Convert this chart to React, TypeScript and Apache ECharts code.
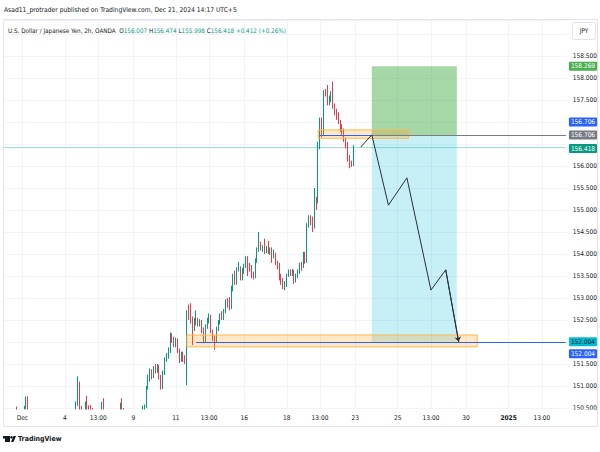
import React, { useEffect, useRef } from "react";
import * as echarts from "echarts";

const FONT = '"Liberation Sans Narrow", "Arial Narrow", "DejaVu Sans Condensed", "Roboto Condensed", Roboto, sans-serif';
const UP = "#089981";
const DOWN = "#f23645";
const TXT = "#131722";

// OHLC bars, 2h, each row = [open, close, low, high]
const novWeek: number[][] = [
  [150.05, 149.85, 149.75, 150.2], [149.85, 149.95, 149.7, 150.1], [149.95, 150.1, 149.85, 150.2], [150.1, 150.2, 150.0, 150.3],
  [150.2, 150.05, 149.95, 150.3], [150.05, 150.25, 150.0, 150.35], [150.25, 150.4, 150.2, 150.45], [150.4, 150.3, 150.25, 150.53],
  [150.3, 150.15, 150.1, 150.35], [150.15, 150.05, 149.95, 150.2],
];
const decWeek1: number[][] = [
  [150.1, 150.25, 150.0, 150.35], [150.25, 150.52, 150.2, 150.55], [150.52, 150.72, 150.48, 150.76], [150.72, 150.42, 150.38, 150.77],
  [150.42, 150.2, 150.1, 150.45], [150.2, 150.0, 149.9, 150.3], [150.0, 150.1, 149.9, 150.2], [150.1, 149.8, 149.7, 150.15],
  [149.8, 149.65, 149.5, 149.9], [149.65, 149.8, 149.55, 149.9], [149.8, 149.7, 149.6, 149.95], [149.7, 149.55, 149.45, 149.8],
  [149.55, 149.6, 149.4, 149.7], [149.6, 149.5, 149.35, 149.7], [149.5, 149.65, 149.4, 149.75], [149.65, 149.8, 149.55, 149.9],
  [149.8, 149.6, 149.5, 149.85], [149.6, 149.7, 149.5, 149.8], [149.7, 149.85, 149.6, 149.95], [149.85, 149.75, 149.65, 150.0],
  [149.75, 149.9, 149.7, 150.05], [149.9, 150.0, 149.8, 150.1], [150.0, 149.9, 149.8, 150.1], [149.9, 150.05, 149.85, 150.15],
  [150.05, 150.2, 150.0, 150.3], [150.2, 150.1, 150.0, 150.3], [150.1, 150.25, 150.05, 150.35], [150.25, 150.35, 150.15, 150.42],
  [150.35, 150.42, 150.3, 150.48], [150.42, 150.6, 150.38, 150.65], [150.6, 151.0, 150.55, 151.22], [151.0, 150.5, 150.45, 151.1],
  [150.5, 150.25, 150.15, 150.55], [150.25, 150.4, 150.2, 150.45], [150.4, 150.62, 150.35, 150.65], [150.62, 150.5, 150.45, 150.78],
  [150.5, 150.44, 150.35, 150.56], [150.54, 150.45, 150.3, 150.57], [150.45, 150.3, 150.2, 150.5], [150.3, 150.2, 150.1, 150.38],
  [150.2, 150.35, 150.15, 150.4], [150.35, 150.42, 150.25, 150.45], [150.42, 150.45, 150.3, 150.48], [150.45, 150.6, 150.42, 150.64],
  [150.6, 150.45, 150.4, 150.72], [150.45, 150.3, 150.2, 150.48], [150.3, 150.2, 150.1, 150.35], [150.2, 150.05, 149.95, 150.25],
  [150.05, 150.15, 149.95, 150.2], [150.15, 150.0, 149.9, 150.2], [150.0, 150.2, 149.95, 150.3], [150.2, 150.35, 150.1, 150.4],
  [150.35, 150.45, 150.3, 150.48], [150.45, 150.58, 150.4, 150.62], [150.58, 150.45, 150.4, 150.72], [150.45, 150.3, 150.2, 150.5],
  [150.3, 150.1, 150.0, 150.35], [150.1, 150.0, 149.9, 150.2], [150.0, 149.95, 149.85, 150.1], [149.95, 150.0, 149.9, 150.05],
];
const decWeek2: number[][] = [
  [150.0, 150.1, 149.9, 150.2], [150.1, 150.2, 150.0, 150.3], [150.2, 150.3, 150.1, 150.38], [150.3, 150.35, 150.2, 150.42],
  [150.35, 150.42, 150.3, 150.46], [150.42, 150.53, 150.38, 150.55], [150.53, 150.56, 150.44, 150.58], [150.56, 150.98, 150.5, 151.0],
  [150.98, 151.2, 150.92, 151.26], [151.2, 151.33, 151.1, 151.4], [151.33, 151.22, 151.15, 151.38], [151.22, 151.4, 151.18, 151.45],
  [151.4, 151.35, 151.28, 151.5], [151.35, 151.42, 151.3, 151.5], [151.42, 151.2, 151.15, 151.48], [151.2, 150.97, 150.92, 151.25],
  [150.97, 151.3, 150.93, 151.35], [151.3, 151.6, 151.25, 151.65], [151.6, 151.7, 151.55, 151.75], [151.7, 151.8, 151.62, 151.88],
  [151.8, 152.15, 151.75, 152.22], [152.15, 152.05, 151.98, 152.2], [152.05, 151.95, 151.88, 152.12], [151.95, 152.05, 151.88, 152.1],
  [152.05, 151.8, 151.75, 152.08], [151.8, 151.6, 151.52, 151.85], [151.6, 151.72, 151.55, 151.78], [151.72, 151.62, 151.55, 151.78],
  [151.62, 151.58, 151.5, 151.7], [151.58, 152.66, 151.02, 152.72], [152.66, 152.6, 152.5, 152.85], [152.6, 152.55, 152.42, 152.88],
  [152.55, 152.3, 151.93, 152.58], [152.3, 152.45, 152.25, 152.55], [152.45, 152.5, 152.38, 152.72], [152.5, 152.42, 152.35, 152.55],
  [152.42, 152.48, 152.35, 152.52], [152.48, 152.3, 152.2, 152.5], [152.3, 152.02, 151.97, 152.33], [152.02, 152.35, 151.98, 152.4],
  [152.35, 152.5, 152.3, 152.55], [152.5, 152.6, 152.42, 152.65], [152.6, 152.25, 152.2, 152.62], [152.25, 152.1, 152.02, 152.28],
  [152.1, 152.05, 151.82, 152.15], [152.05, 152.3, 152.0, 152.35], [152.3, 152.45, 152.25, 152.5], [152.45, 152.6, 152.4, 152.65],
  [152.6, 152.55, 152.5, 152.7], [152.55, 152.7, 152.5, 152.75], [152.7, 152.92, 152.65, 152.97], [152.92, 152.85, 152.78, 153.0],
  [152.85, 152.78, 152.72, 153.02], [152.78, 153.2, 152.75, 153.28], [153.2, 153.5, 153.15, 153.55], [153.5, 153.35, 153.3, 153.62],
  [153.35, 153.65, 153.3, 153.7], [153.65, 153.68, 153.6, 153.82], [153.68, 153.45, 153.4, 153.72], [153.45, 153.6, 153.4, 153.68],
];
const decWeek3: number[][] = [
  [153.6, 153.72, 153.55, 153.78], [153.72, 153.9, 153.68, 153.95], [153.9, 153.72, 153.5, 153.95], [153.72, 153.68, 153.6, 153.8],
  [153.68, 153.5, 153.45, 153.75], [153.5, 153.48, 153.42, 153.6], [153.48, 153.85, 153.45, 153.9], [153.85, 154.1, 153.8, 154.15],
  [154.1, 154.22, 154.05, 154.5], [154.22, 154.12, 154.08, 154.28], [154.12, 154.15, 154.05, 154.2], [154.15, 154.08, 154.0, 154.35],
  [154.08, 154.12, 154.02, 154.18], [154.12, 154.05, 154.0, 154.3], [154.05, 154.1, 153.98, 154.15], [154.1, 153.98, 153.8, 154.15],
  [153.98, 154.0, 153.9, 154.1], [154.0, 153.8, 153.75, 154.03], [153.8, 153.72, 153.65, 153.85], [153.72, 153.45, 153.4, 153.8],
  [153.45, 153.35, 153.3, 153.55], [153.35, 153.28, 153.2, 153.45], [153.28, 153.3, 153.18, 153.38], [153.3, 153.52, 153.25, 153.55],
  [153.52, 153.58, 153.48, 153.65], [153.58, 153.55, 153.5, 153.65], [153.55, 153.6, 153.5, 153.66], [153.6, 153.38, 153.32, 153.64],
  [153.38, 153.5, 153.35, 153.55], [153.5, 153.6, 153.45, 153.65], [153.6, 153.75, 153.55, 153.8], [153.75, 153.7, 153.62, 153.82],
  [153.7, 154.0, 153.68, 154.05], [154.0, 153.82, 153.78, 154.05], [153.82, 154.65, 153.8, 154.7], [154.65, 154.82, 154.6, 154.88],
  [154.82, 154.7, 154.65, 154.88], [154.7, 154.62, 154.5, 154.85], [154.62, 155.22, 154.58, 155.5], [155.22, 155.18, 155.0, 155.3],
  [155.18, 156.48, 155.15, 156.55], [156.48, 157.05, 156.38, 157.1], [157.05, 156.75, 156.65, 157.1], [156.75, 157.68, 156.7, 157.72],
  [157.68, 157.65, 157.58, 157.75], [157.65, 157.42, 157.38, 157.84], [157.42, 157.55, 157.38, 157.6], [157.55, 157.65, 157.45, 157.7],
  [157.65, 157.35, 157.3, 157.92], [157.35, 157.2, 157.15, 157.42], [157.2, 157.15, 157.05, 157.3], [157.15, 157.0, 156.95, 157.22],
  [157.0, 156.85, 156.78, 157.05], [156.85, 156.75, 156.7, 156.95], [156.75, 156.6, 156.55, 156.85], [156.6, 156.5, 156.4, 156.65],
  [156.5, 156.15, 156.1, 156.55], [156.15, 156.05, 155.95, 156.25], [156.05, 156.0, 155.98, 156.12], [156.007, 156.418, 155.998, 156.474],
];

const barCount = 305;
const xTickLabels: [string, string][] = [
  ["2024-12-02 03:00", "Dec"], ["2024-12-04 01:00", "4"], ["2024-12-05 13:00", "13:00"], ["2024-12-09 03:00", "9"],
  ["2024-12-11 01:00", "11"], ["2024-12-12 13:00", "13:00"], ["2024-12-16 03:00", "16"], ["2024-12-18 01:00", "18"],
  ["2024-12-19 13:00", "13:00"], ["2024-12-23 03:00", "23"], ["2024-12-25 01:00", "25"], ["2024-12-26 13:00", "13:00"],
  ["2024-12-30 03:00", "30"], ["2025-01-01 01:00", "2025"], ["2025-01-02 13:00", "13:00"],
];

const headerLine1 = "Asad11_protrader published on TradingView.com, Dec 21, 2024 14:17 UTC+5";
const symbolName = "U.S. Dollar / Japanese Yen, 2h, OANDA";
const ohlcLegend: [string, string][] = [["O", "156.007"], ["H", "156.474"], ["L", "155.998"], ["C", "156.418"]];
const changeText = "+0.412 (+0.26%)";

const lastPrice = 156.418;
const targetPrice = 158.269;
const entryPrice = 156.706;
const stopPrice = 152.004;
const positionBars = [199, 245];
const upperZoneBars = [170, 219];
const upperZonePrices = [156.82, 156.63];
const lowerZoneBars = [99, 256];
const lowerZonePrices = [152.16, 151.89];
const entryRayStart = 171;
const stopRayStart = 104;
const pathBars = [193, 199, 208, 218, 231, 239, 246];
const pathPrices = [156.43, 156.706, 155.11, 155.73, 153.18, 153.64, 152.004];

function buildBarTimes(n: number): string[] {
  const out: string[] = [];
  const pad = (v: number) => String(v).padStart(2, "0");
  let t = Date.UTC(2024, 10, 29, 7);
  for (let k = 0; k < n; k++) {
    const d = new Date(t);
    out.push(`${d.getUTCFullYear()}-${pad(d.getUTCMonth() + 1)}-${pad(d.getUTCDate())} ${pad(d.getUTCHours())}:00`);
    t += 7200000;
    const nd = new Date(t);
    if (nd.getUTCDay() === 6 && nd.getUTCHours() >= 3) {
      t = Date.UTC(nd.getUTCFullYear(), nd.getUTCMonth(), nd.getUTCDate() + 2, 3);
    }
  }
  return out;
}

const axisLabelBox = (bg: string, text: string, dy = 0, fg = "#ffffff") => ({
  show: true,
  position: "end",
  distance: 3,
  formatter: text,
  backgroundColor: bg,
  color: fg,
  fontSize: 6.5,
  lineHeight: 7,
  fontFamily: FONT,
  padding: [1, 2, 1, 2],
  borderRadius: 1,
  offset: [0, dy],
});

export default function App() {
  const ref = useRef<HTMLDivElement>(null);
  useEffect(() => {
    if (!ref.current) return;
    const chart = echarts.init(ref.current, null, { renderer: "svg" });
    const times = buildBarTimes(barCount);
    const tickMap = new Map(xTickLabels);
    const tickIdx = new Set<number>();
    times.forEach((t, i) => { if (tickMap.has(t)) tickIdx.add(i); });
    const bars = [...novWeek, ...decWeek1, ...decWeek2, ...decWeek3];
    const candleData = bars.map(([o, c, l, h]) => [o, c, l, h]);
    const lastBar = barCount - 1;
    const pathData = pathBars.map((b, i) => [b, pathPrices[i]]);
    const n = pathBars.length;
    const coveredLevels = [entryPrice, lastPrice, stopPrice];

    // header legend laid out segment by segment
    const ctx = document.createElement("canvas").getContext("2d")!;
    const legendSize = 6.3;
    ctx.font = `${legendSize}px ${FONT}`;
    const segs: [string, string][] = [[symbolName, TXT], ["  ", TXT]];
    ohlcLegend.forEach(([k, v], i) => { segs.push([(i ? " " : "") + k, TXT]); segs.push([v, UP]); });
    segs.push([" " + changeText, UP]);
    let lx = 8;
    const legendEls: any[] = [];
    segs.forEach(([s, col]) => {
      if (s.trim()) {
        legendEls.push({ type: "text", z: 20, x: lx, y: 30, style: { text: s, fontSize: legendSize, fontFamily: FONT, fill: col, verticalAlign: "middle" } });
      }
      lx += ctx.measureText(s).width;
    });

    const option: any = {
      animation: false,
      backgroundColor: "#ffffff",
      grid: { left: 3, right: 33, top: 20, bottom: 44 },
      xAxis: {
        type: "category",
        data: times,
        boundaryGap: true,
        z: 10,
        axisLine: { show: false },
        axisTick: { show: false },
        splitLine: { show: false },
        axisLabel: {
          interval: (i: number) => tickIdx.has(i),
          formatter: (v: string) => {
            const s = tickMap.get(v) || "";
            return s === "2025" ? "{b|2025}" : s;
          },
          color: TXT,
          fontSize: 6.5,
          fontFamily: FONT,
          margin: 6,
          rich: { b: { fontWeight: "bold", fontSize: 6.5, fontFamily: FONT, color: TXT } },
        },
      },
      yAxis: {
        type: "value",
        position: "right",
        min: 150.5,
        max: 159.318,
        interval: 0.5,
        z: 0,
        axisLine: { show: false },
        axisTick: { show: false },
        axisLabel: {
          formatter: (v: number) =>
            v > 158.9 || coveredLevels.some((p) => Math.abs(v - p) < 0.3) ? "" : v.toFixed(3),
          color: TXT,
          fontSize: 6.5,
          fontFamily: FONT,
          margin: 6,
        },
        splitLine: { lineStyle: { color: "#f0f3fa", width: 1 } },
      },
      series: [
        {
          type: "line",
          data: [],
          z: 1,
          silent: true,
          markLine: {
            z: 1,
            silent: true,
            symbol: ["none", "none"],
            label: { show: false },
            lineStyle: { color: "#f0f3fa", width: 1, type: "solid" },
            data: Array.from(tickIdx).map((i) => ({ xAxis: times[i] })),
          },
        },
        {
          type: "line",
          data: [[0, lastPrice], [lastBar, lastPrice]],
          z: 1,
          silent: true,
          symbol: "none",
          color: "#9bdcd0",
          lineStyle: { color: "#9bdcd0", width: 1, type: "solid" },
        },
        {
          type: "candlestick",
          data: candleData,
          barWidth: 0.6,
          z: 2,
          clip: true,
          itemStyle: { color: UP, color0: DOWN, borderColor: UP, borderColor0: DOWN, borderWidth: 1 },
        },
        {
          type: "line",
          data: pathData,
          symbol: "none",
          silent: true,
          z: 4,
          lineStyle: { color: "#2a2e39", width: 1 },
          markArea: {
            z: 3,
            silent: true,
            label: { show: false },
            data: [
              [{ coord: [positionBars[0], targetPrice], itemStyle: { color: "rgba(76,175,80,0.5)" } }, { coord: [positionBars[1], entryPrice] }],
              [{ coord: [positionBars[0], entryPrice], itemStyle: { color: "rgba(0,188,212,0.22)" } }, { coord: [positionBars[1], stopPrice] }],
              [{ coord: [upperZoneBars[0], upperZonePrices[0]], itemStyle: { color: "rgba(255,152,0,0.22)", borderColor: "#ffb74d", borderWidth: 1 } }, { coord: [upperZoneBars[1], upperZonePrices[1]] }],
              [{ coord: [lowerZoneBars[0], lowerZonePrices[0]], itemStyle: { color: "rgba(255,152,0,0.22)", borderColor: "#ffb74d", borderWidth: 1 } }, { coord: [lowerZoneBars[1], lowerZonePrices[1]] }],
            ],
          },
          markLine: {
            z: 4,
            silent: true,
            symbol: ["none", "none"],
            data: [
              [{ coord: [lastBar - 1, lastPrice], lineStyle: { color: "transparent", width: 0 }, label: axisLabelBox(UP, "156.418", 1) }, { coord: [lastBar, lastPrice] }],
              [{ coord: [entryRayStart, entryPrice], lineStyle: { color: "#2962ff", width: 1, type: "solid" }, label: axisLabelBox("#2962ff", "156.706", -13) }, { coord: [lastBar, entryPrice] }],
              [{ coord: [positionBars[0], entryPrice], lineStyle: { color: "#787b86", width: 1, type: "solid" }, label: axisLabelBox("#787b86", "156.706") }, { coord: [lastBar, entryPrice] }],
              [{ coord: [stopRayStart, stopPrice], lineStyle: { color: "#2962ff", width: 1, type: "solid" }, label: axisLabelBox("#2962ff", "152.004", 12) }, { coord: [lastBar, stopPrice] }],
              [{ coord: [lastBar - 1, stopPrice], lineStyle: { color: "transparent", width: 0 }, label: axisLabelBox("#00bcd4", "152.004", 0, TXT) }, { coord: [lastBar, stopPrice] }],
              [{ coord: [lastBar - 1, targetPrice], lineStyle: { color: "transparent", width: 0 }, label: axisLabelBox("#4caf50", "158.269") }, { coord: [lastBar, targetPrice] }],
              [
                { coord: [pathBars[n - 2], pathPrices[n - 2]], symbol: "none", lineStyle: { color: "#2a2e39", width: 1, type: "solid" }, label: { show: false } },
                { coord: [pathBars[n - 1], pathPrices[n - 1]], symbol: "arrow", symbolSize: 5 },
              ],
            ],
          },
        },
      ],
      graphic: [
        { type: "rect", z: 0, shape: { x: 3.5, y: 19.5, width: 594, height: 407 }, style: { fill: "none", stroke: "#e0e3eb", lineWidth: 1 } },
        { type: "rect", z: 5, shape: { x: 4, y: 409.5, width: 592, height: 16.5 }, style: { fill: "#ffffff" } },
        { type: "text", z: 20, x: 4, y: 10, style: { text: headerLine1, fontSize: 6.7, fontFamily: FONT, fill: TXT, verticalAlign: "middle" } },
        ...legendEls,
        { type: "rect", z: 20, shape: { x: 572.5, y: 22.5, width: 23, height: 17, r: 2 }, style: { fill: "#ffffff", stroke: "#e0e3eb", lineWidth: 1 } },
        { type: "text", z: 21, x: 584, y: 31, style: { text: "JPY", fontSize: 6.5, fontFamily: FONT, fill: TXT, align: "center", verticalAlign: "middle" } },
        { type: "rect", z: 20, shape: { x: 5, y: 436, width: 5, height: 6 }, style: { fill: TXT } },
        { type: "rect", z: 20, shape: { x: 3, y: 436, width: 4, height: 2.5 }, style: { fill: TXT } },
        { type: "circle", z: 20, shape: { cx: 11.5, cy: 437.3, r: 1.3 }, style: { fill: TXT } },
        { type: "polygon", z: 20, shape: { points: [[13.5, 436], [16, 436], [13.5, 442], [11, 442]] }, style: { fill: TXT } },
        { type: "text", z: 20, x: 18, y: 439, style: { text: "TradingView", fontSize: 7, fontWeight: "bold", fontFamily: FONT, fill: TXT, verticalAlign: "middle" } },
      ],
    };
    chart.setOption(option);
    return () => chart.dispose();
  }, []);
  return <div ref={ref} style={{ position: "absolute", left: 0, top: 0, width: 600, height: 452 }} />;
}
